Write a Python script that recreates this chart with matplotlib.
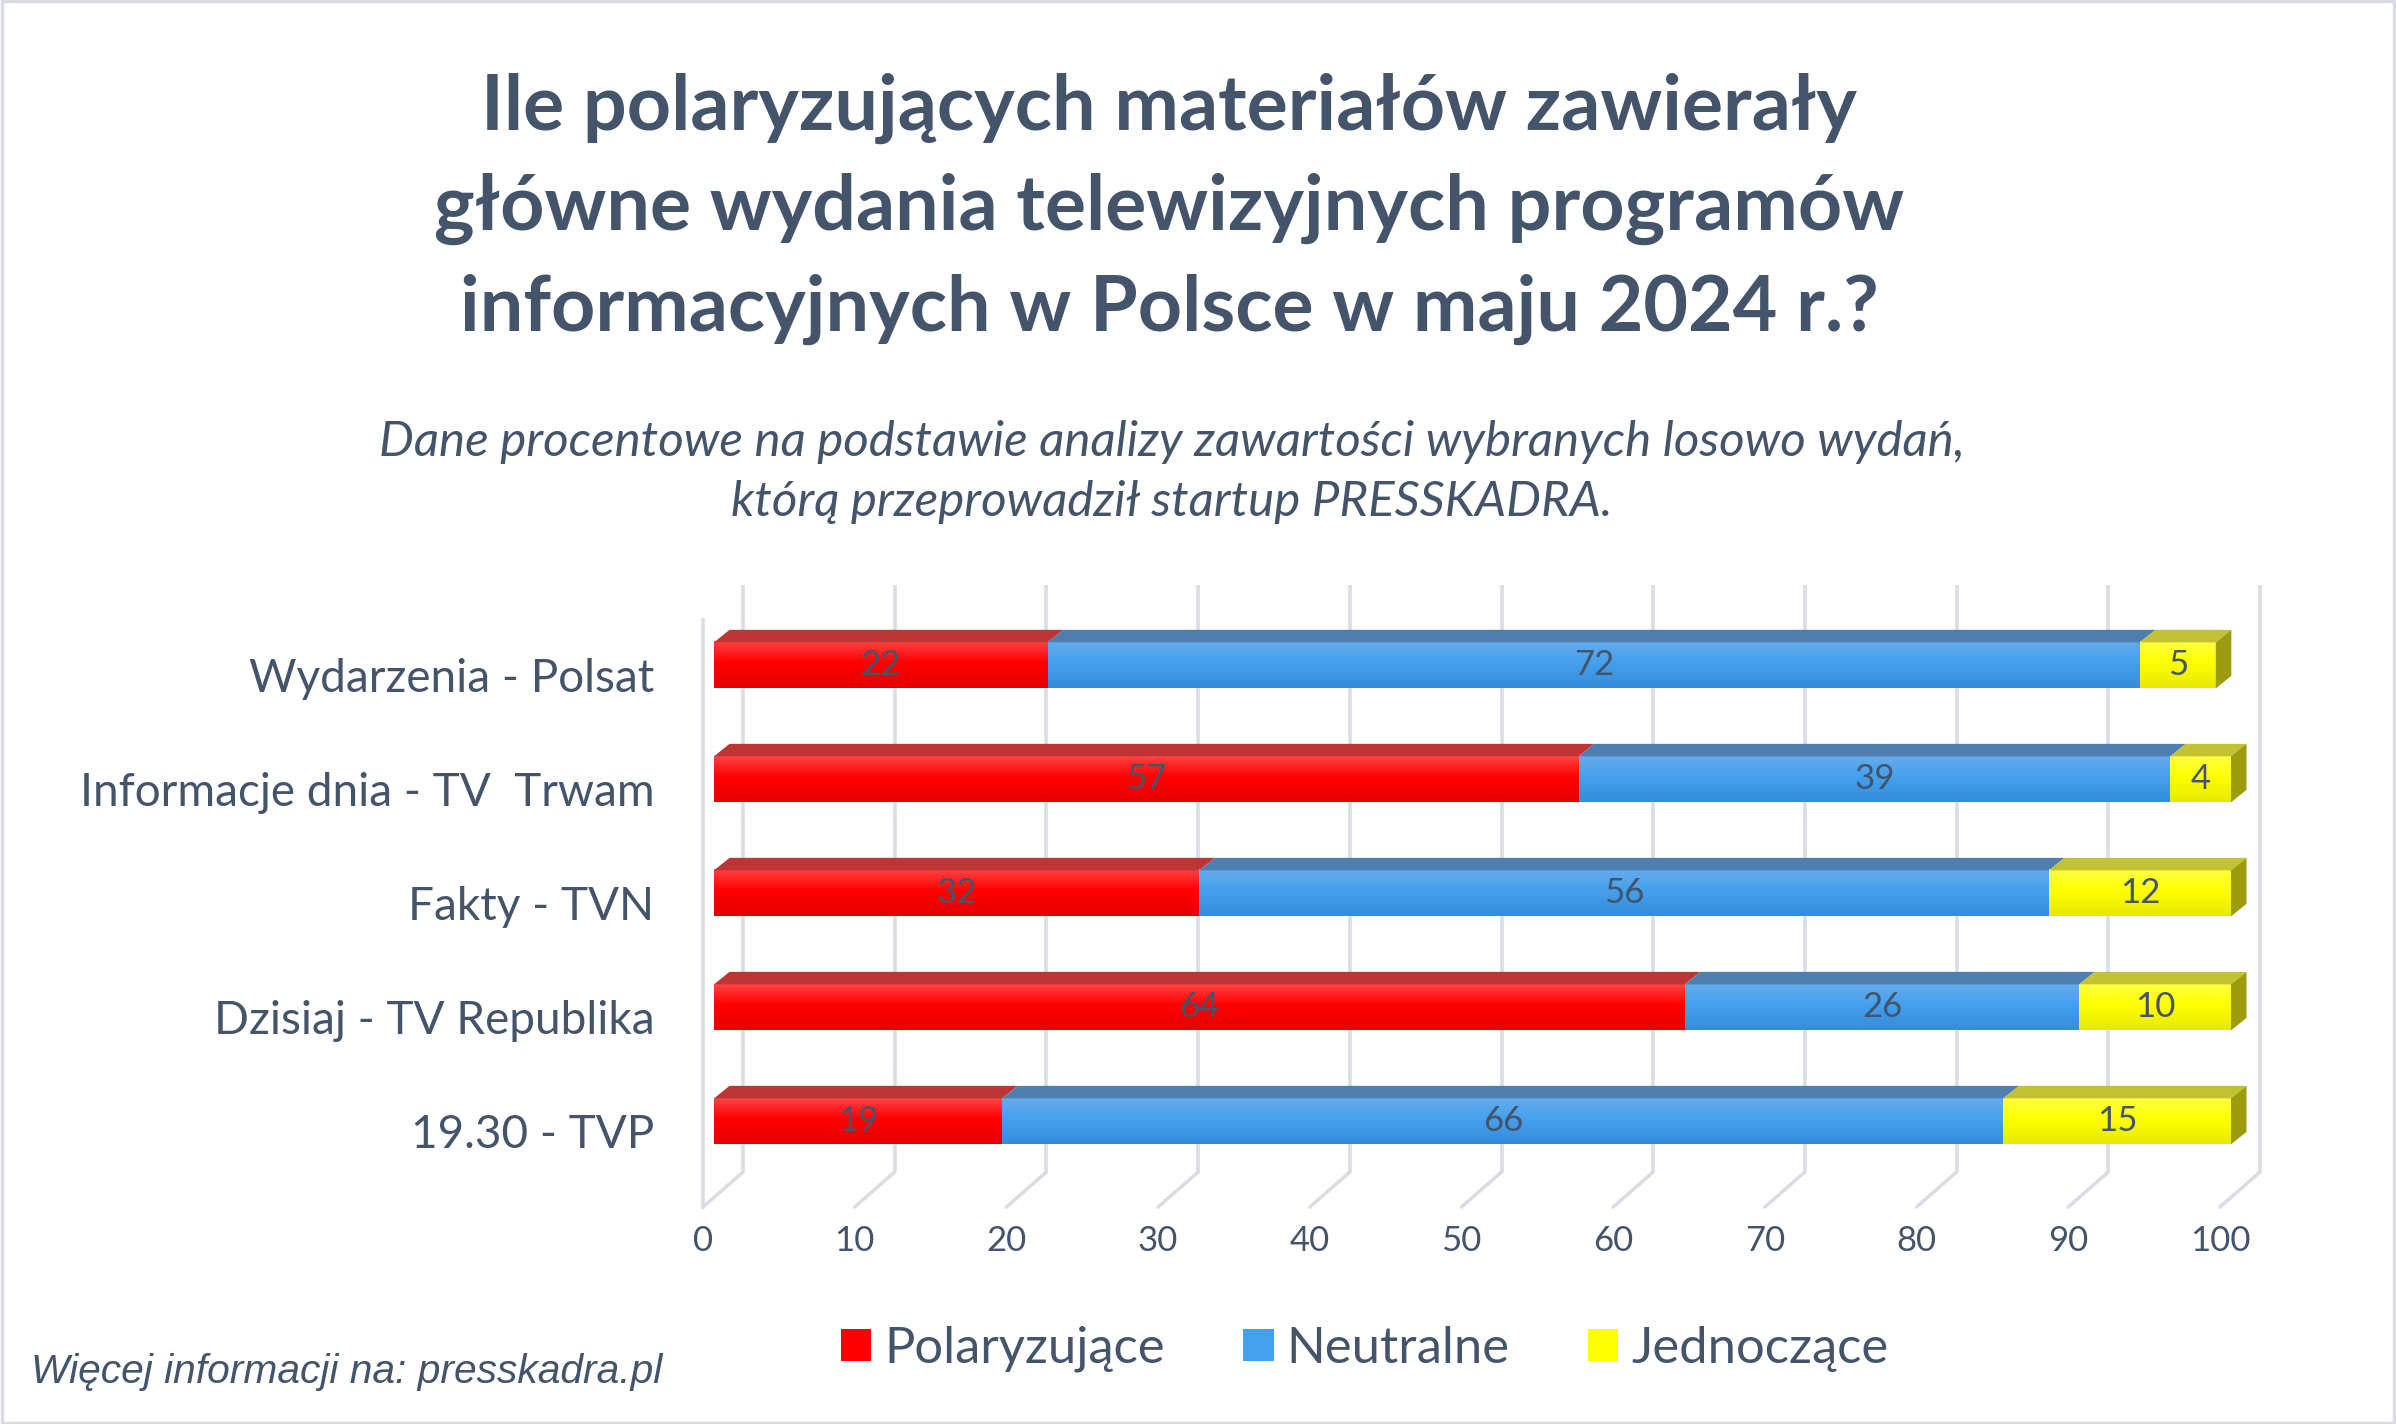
import numpy as np
import matplotlib
matplotlib.use('Agg')
import matplotlib.pyplot as plt
from matplotlib.patches import Polygon, Rectangle, Patch

plt.rcParams['font.family'] = ['Lato', 'DejaVu Sans']

# dane
categories = ['19.30 - TVP', 'Dzisiaj - TV Republika', 'Fakty - TVN',
              'Informacje dnia - TV  Trwam', 'Wydarzenia - Polsat']
polar = [19, 64, 32, 57, 22]
neutral = [66, 26, 56, 39, 72]
unite = [15, 10, 12, 4, 5]
series_names = ['Polaryzujące', 'Neutralne', 'Jednoczące']
x_ticks = list(range(0, 101, 10))

TXT = '#44546A'
GRID = '#DADDE5'

# kolory: (gora, srodek, dol) frontu, wierzch
front_cols = [('#FF4444', '#FF0000', '#E60000'),
              ('#66ABEC', '#45A0EE', '#358CDB'),
              ('#FFFF44', '#FFFF00', '#E8E800')]
top_cols = ['#BF3535', '#4E7FAE', '#C3C233']
side_col = '#9C9C0E'

W, H = 2396, 1424
fig = plt.figure(figsize=(W / 100, H / 100), dpi=100)
ax = fig.add_axes([703 / W, 217 / H, 1517 / W, 587 / H])
ylo, yhi = -0.667, 4.482
ax.set_xlim(0, 100)
ax.set_ylim(ylo, yhi)

px_x = 1517 / 100
px_y = 587 / (yhi - ylo)

# przesuniecia glebi (piksele -> jednostki danych)
fdx, fdy = 40 / px_x, 35 / px_y      # sciana tylna
bfx, bfy = 11 / px_x, 9.6 / px_y     # przod slupka
bdx, bdy = 15.5 / px_x, 12.5 / px_y  # glebokosc slupka
bh = 46 / px_y

# siatka: sciana tylna + podloga
for v in x_ticks:
    ax.plot([v + fdx, v + fdx], [ylo + fdy, yhi + fdy], color=GRID, lw=2.6,
            zorder=1, clip_on=False, solid_capstyle='butt')
    ax.plot([v, v + fdx], [ylo, ylo + fdy], color=GRID, lw=2.6,
            zorder=1, clip_on=False, solid_capstyle='round')
ax.plot([0, 0], [ylo, yhi], color=GRID, lw=2.6, zorder=1, clip_on=False)


def grad(cols, n=80):
    c = [np.array(matplotlib.colors.to_rgb(k)) for k in cols]
    t = np.linspace(0, 1, n)
    out = np.zeros((n, 1, 3))
    for i, tt in enumerate(t):
        if tt < 0.45:
            f = tt / 0.45
            out[i, 0] = c[0] * (1 - f) + c[1] * f
        else:
            f = (tt - 0.45) / 0.55
            out[i, 0] = c[1] * (1 - f) + c[2] * f
    return out


series = [polar, neutral, unite]
for i, cat in enumerate(categories):
    left = 0
    for s, vals in enumerate(series):
        w = vals[i]
        x0, x1 = left + bfx, left + w + bfx
        yb, yt = i - bh / 2 + bfy, i + bh / 2 + bfy
        ax.imshow(grad(front_cols[s]), extent=(x0, x1, yb, yt), aspect='auto',
                  interpolation='bilinear', zorder=3, clip_on=False)
        ax.add_patch(Polygon([(x0, yt), (x1, yt), (x1 + bdx, yt + bdy), (x0 + bdx, yt + bdy)],
                             closed=True, facecolor=top_cols[s], edgecolor='none',
                             zorder=3, clip_on=False))
        if s == 2:
            ax.add_patch(Polygon([(x1, yb), (x1, yt), (x1 + bdx, yt + bdy), (x1 + bdx, yb + bdy)],
                                 closed=True, facecolor=side_col, edgecolor='none',
                                 zorder=3, clip_on=False))
        ax.text((x0 + x1) / 2, (yb + yt) / 2, str(w), ha='center', va='center',
                fontsize=25, color=TXT, zorder=5)
        left += w

ax.set_xlim(0, 100)
ax.set_ylim(ylo, yhi)
ax.set_xticks(x_ticks)
ax.set_yticks(range(len(categories)), categories)
ax.tick_params(axis='x', length=0, pad=13, labelsize=25, labelcolor=TXT)
ax.tick_params(axis='y', length=0, pad=35, labelsize=33, labelcolor=TXT)
for sp in ax.spines.values():
    sp.set_visible(False)
ax.patch.set_alpha(0)

# tytul
fig.text(0.488, 1 - 209 / H, 'Ile polaryzujących materiałów zawierały\n'
         'główne wydania telewizyjnych programów\n'
         'informacyjnych w Polsce w maju 2024 r.?',
         ha='center', va='center', fontsize=55.5, fontweight='bold', color=TXT,
         linespacing=1.5)
fig.text(0.489, 1 - 472 / H, 'Dane procentowe na podstawie analizy zawartości wybranych losowo wydań,\n'
         'którą przeprowadził startup PRESSKADRA.',
         ha='center', va='center', fontsize=35.5, style='italic', color=TXT,
         linespacing=1.45)

# legenda
handles = [Patch(facecolor=front_cols[k][1], edgecolor='none') for k in range(3)]
leg = fig.legend(handles, series_names, loc='center', bbox_to_anchor=(0.5695, 1 - 1349 / H),
                 ncol=3, frameon=False, fontsize=36.5, labelcolor=TXT,
                 handlelength=0.6, handleheight=0.6, handletextpad=0.25,
                 columnspacing=1.55)

fig.text(31 / W, 1 - 1372 / H, 'Więcej informacji na: presskadra.pl', ha='left', va='center',
         fontsize=29.3, style='italic', color=TXT, family='Liberation Sans')

fig.patches.append(Rectangle((0.001, 0.001), 0.998, 0.998, transform=fig.transFigure,
                             facecolor='none', edgecolor='#D9DDE3', lw=2.5))

fig.savefig('out.png', dpi=100, facecolor='white')
